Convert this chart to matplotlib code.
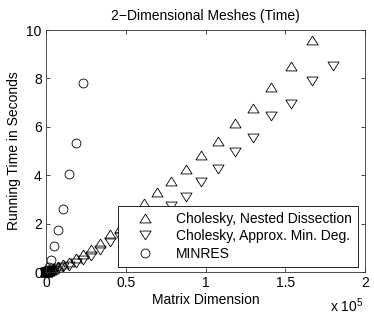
import matplotlib
matplotlib.use("Agg")
import matplotlib.pyplot as plt
from matplotlib.ticker import FuncFormatter

# matrix dimension (number of unknowns) and running time in seconds
nd_n = [16, 64, 256, 576, 1024, 1600, 2304, 3136, 4096, 5184, 7744, 10816, 14400,
        18496, 23104, 28224, 33856, 40000, 46656, 61504, 69696, 78400, 87616,
        97344, 107584, 118336, 129600, 141376, 153664, 166464]
nd_t = [0.002, 0.005, 0.01, 0.02, 0.03, 0.05, 0.07, 0.09, 0.12, 0.15, 0.23, 0.32,
        0.41, 0.58, 0.76, 0.95, 1.2, 1.55, 1.8, 2.84, 3.3, 3.76, 4.27, 4.83, 5.41,
        6.14, 6.76, 7.63, 8.51, 9.59]

amd_n = [16, 64, 256, 576, 1024, 1600, 2304, 3136, 4096, 5184, 7744, 10816, 14400,
         18496, 23104, 28224, 33856, 40000, 46656, 78400, 87616, 97344, 107584,
         118336, 129600, 141376, 153664, 166464, 179776]
amd_t = [0.001, 0.002, 0.005, 0.01, 0.02, 0.03, 0.04, 0.06, 0.08, 0.1, 0.15, 0.19,
         0.25, 0.37, 0.5, 0.66, 0.9, 1.24, 1.45, 2.73, 3.11, 3.71, 4.27, 4.95, 5.55,
         6.45, 6.94, 7.91, 8.52]

minres_n = [16, 64, 256, 576, 1024, 1600, 3136, 5184, 7744, 10816, 14400, 18496, 23104]
minres_t = [0.005, 0.01, 0.03, 0.05, 0.1, 0.2, 0.5, 1.07, 1.74, 2.62, 4.05, 5.32, 7.82]

labels = ["Cholesky, Nested Dissection", "Cholesky, Approx. Min. Deg.", "MINRES"]
x_ticks = [0, 50000, 100000, 150000, 200000]
y_ticks = [0, 2, 4, 6, 8, 10]

plt.rcParams["font.family"] = ["Liberation Sans", "DejaVu Sans"]
plt.rcParams["mathtext.fontset"] = "custom"
plt.rcParams["mathtext.rm"] = "Liberation Sans"

# MATLAB-ish triangles: a bit wider than tall
tri_up = [(0, 0.8), (-1, -0.8), (1, -0.8), (0, 0.8)]
tri_dn = [(0, -0.8), (-1, 0.8), (1, 0.8), (0, -0.8)]

fig = plt.figure(figsize=(3.74, 3.15), dpi=100)
ax = fig.add_axes([46 / 374, 1 - 272 / 315, 319 / 374, 242 / 315])

mk = dict(linestyle="none", markerfacecolor="none", markeredgecolor="black",
          markeredgewidth=0.6, clip_on=False)
ax.plot(nd_n, nd_t, marker=tri_up, markersize=8.0, label=labels[0], **mk)
ax.plot(amd_n, amd_t, marker=tri_dn, markersize=8.0, label=labels[1], **mk)
ax.plot(minres_n, minres_t, marker="o", markersize=6.4, label=labels[2], **mk)

ax.set_xlim(0, 200000)
ax.set_ylim(0, 10)
ax.set_xticks(x_ticks)
ax.set_yticks(y_ticks)
ax.xaxis.set_major_formatter(FuncFormatter(lambda v, p: f"{v / 1e5:g}"))
ax.tick_params(direction="in", top=True, right=True, length=3, width=0.5,
               labelsize=10, pad=3)
for s in ax.spines.values():
    s.set_linewidth(0.6)
    s.set_color("#333333")

ax.set_title("2\u2212Dimensional Meshes (Time)", fontsize=10, pad=7)
ax.set_xlabel("Matrix Dimension", fontsize=10, labelpad=2)
ax.set_ylabel("Running Time in Seconds", fontsize=10, labelpad=4)
fig.text(0.972, 1 - 306 / 315, r"x 10$^{\mathregular{5}}$", ha="right", va="center",
         fontsize=10)

leg = ax.legend(loc="lower right", bbox_to_anchor=(312 / 319, 5 / 242), fontsize=10,
                frameon=True, fancybox=False, framealpha=1, edgecolor="black",
                borderpad=0.45, labelspacing=0.25, handlelength=3.0, handletextpad=0.7,
                borderaxespad=0)
leg.get_frame().set_linewidth(0.6)
leg.set_zorder(5)

fig.savefig("out.png", dpi=100)
